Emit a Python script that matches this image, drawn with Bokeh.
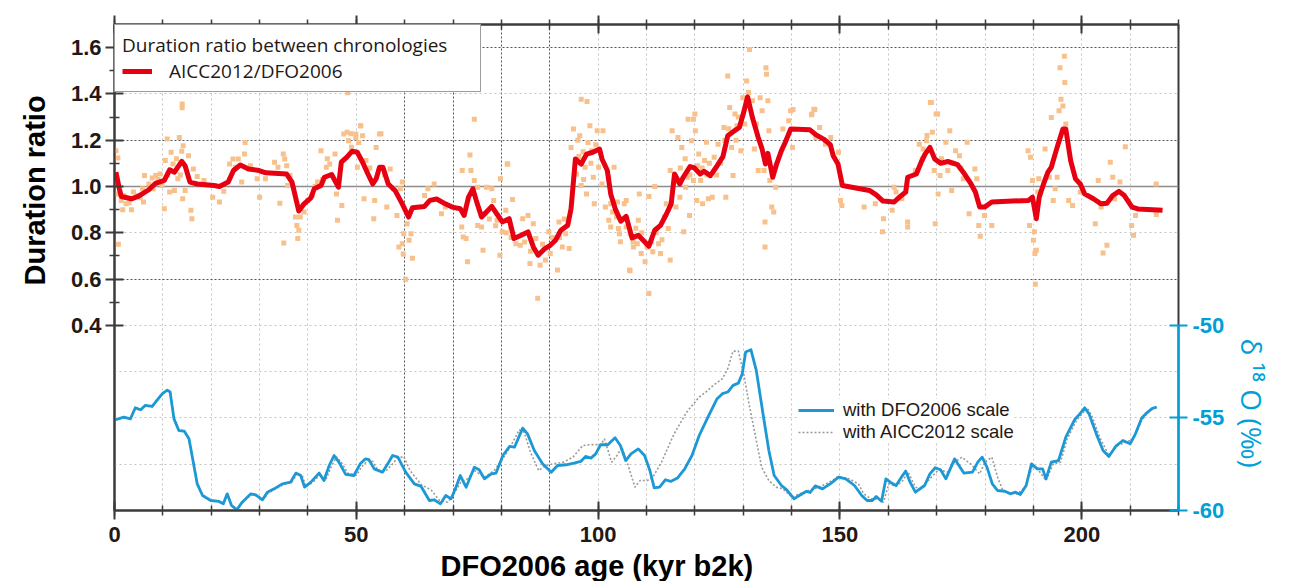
from bokeh.plotting import figure
from bokeh.models import (Range1d, LinearAxis, FixedTicker, Grid, Span, Legend,
                          LegendItem, Title, PrintfTickFormatter)
from bokeh.embed import file_html
from bokeh.resources import INLINE

# ---------------- data ----------------
red_x = [0.3, 1.0, 1.4, 3.5, 4.9, 7.1, 8.5, 10.3, 11.4, 12.4, 13.9, 14.6, 15.6, 17.1, 20.6, 21.7,
         23.5, 24.6, 26.0, 27.7, 29.9, 31.3, 35.6, 36.7, 38.1, 39.2, 40.6, 41.3, 42.7, 43.4, 44.9,
         46.3, 46.9, 48.0, 49.1, 50.2, 51.3, 52.4, 53.4, 54.1, 54.8, 55.5, 56.6, 58.0, 59.5, 60.8,
         61.6, 64.1, 65.2, 66.6, 68.4, 69.8, 71.5, 72.3, 73.2, 74.1, 74.8, 75.9, 76.9, 78.0, 79.1,
         80.2, 81.6, 82.6, 84.1, 85.5, 86.6, 87.6, 89.0, 90.1, 91.2, 92.3, 93.7, 94.4, 95.3, 96.5,
         97.6, 98.9, 100.3, 100.8, 101.9, 102.6, 103.6, 104.7, 105.8, 107.0, 108.3, 109.3, 110.5,
         111.7, 112.9, 114.1, 115.1, 115.8, 116.9, 117.6, 119.0, 119.9, 121.1, 121.9, 123.2, 124.4,
         125.8, 126.8, 128.0, 129.2, 130.0, 130.9, 131.9, 133.1, 133.9, 134.6, 135.1, 136.1, 136.9,
         137.9, 138.7, 139.8, 143.8, 145.0, 146.6, 148.0, 148.6, 149.6, 150.5, 156.1, 157.5, 158.9,
         161.2, 162.3, 163.6, 164.0, 165.8, 166.8, 167.6, 168.6, 169.6, 170.8, 172.3, 174.3, 175.5,
         177.1, 178.0, 178.9, 179.9, 181.4, 189.0, 189.8, 190.6, 191.2, 192.1, 193.0, 193.7, 194.9,
         196.1, 196.7, 197.7, 198.7, 199.7, 200.6, 202.4, 204.0, 205.2, 206.4, 207.7, 208.8, 210.4,
         211.6, 216.7]
red_y = [1.062, 0.99, 0.957, 0.947, 0.957, 0.986, 1.014, 1.026, 1.072, 1.062, 1.109, 1.09, 1.019,
         1.011, 1.004, 1.0, 1.019, 1.069, 1.093, 1.076, 1.069, 1.059, 1.054, 1.019, 0.894, 0.925,
         0.951, 0.99, 1.004, 1.04, 1.052, 0.997, 1.105, 1.126, 1.152, 1.148, 1.105, 1.054, 1.011,
         1.033, 1.083, 1.083, 1.011, 0.983, 0.925, 0.868, 0.908, 0.914, 0.94, 0.946, 0.925, 0.911,
         0.904, 0.875, 0.954, 0.99, 0.94, 0.868, 0.89, 0.914, 0.88, 0.847, 0.861, 0.775, 0.789,
         0.804, 0.739, 0.703, 0.732, 0.746, 0.768, 0.811, 0.832, 0.904, 1.119, 1.097, 1.14, 1.148,
         1.162, 1.119, 1.069, 0.968, 0.9, 0.85, 0.871, 0.778, 0.789, 0.768, 0.742, 0.811, 0.832,
         0.88, 0.925, 1.054, 1.011, 1.04, 1.086, 1.08, 1.054, 1.066, 1.047, 1.083, 1.129, 1.219,
         1.238, 1.255, 1.313, 1.387, 1.298, 1.212, 1.162, 1.097, 1.143, 1.04, 1.097, 1.155, 1.191,
         1.248, 1.245, 1.224, 1.205, 1.181, 1.133, 1.097, 1.004, 0.983, 0.964, 0.937, 0.933, 0.954,
         0.976, 1.04, 1.054, 1.105, 1.14, 1.169, 1.119, 1.1, 1.108, 1.095, 1.062, 1.011, 0.976,
         0.911, 0.911, 0.933, 0.94, 0.954, 0.861, 0.954, 1.011, 1.062, 1.083, 1.169, 1.248, 1.248,
         1.112, 1.033, 1.011, 0.968, 0.947, 0.925, 0.928, 0.961, 0.979, 0.961, 0.911, 0.903, 0.897]

pts_x = [0.3, 0.7, 0.8, 0.5, 1.4, 1.7, 2.4, 3.5, 3.9, 4.6, 5.3, 6.0, 6.2, 7.1, 7.8, 8.5, 9.4, 9.8,
         10.3, 10.5, 10.9, 11.4, 11.7, 12.1, 12.4, 13.1, 13.4, 13.9, 14.2, 14.1, 14.6, 15.3, 15.8,
         16.0, 16.3, 17.1, 18.5, 20.3, 21.7, 22.6, 23.8, 24.5, 25.0, 25.6, 26.3, 26.9, 27.0, 28.1,
         29.5, 30.0, 31.2, 33.1, 33.8, 34.2, 34.9, 35.2, 35.6, 35.8, 35.0, 36.3, 37.4, 37.7, 38.1,
         37.9, 38.4, 39.2, 39.9, 40.9, 42.0, 42.7, 43.8, 44.5, 45.6, 45.9, 46.1, 47.0, 47.4, 48.1,
         48.4, 49.9, 50.9, 51.3, 50.2, 52.0, 51.6, 53.8, 54.1, 54.8, 53.6, 56.3, 57.0, 57.7, 58.4,
         58.8, 59.5, 59.8, 59.7, 60.2, 60.5, 60.9, 61.6, 61.3, 59.5, 59.1, 64.1, 64.8, 66.1, 67.6,
         68.4, 71.9, 71.8, 72.1, 72.7, 73.0, 73.5, 73.7, 74.4, 75.1, 75.1, 75.9, 76.2, 76.6, 76.9,
         78.0, 78.4, 79.1, 79.8, 79.7, 80.2, 80.9, 81.2, 81.9, 82.3, 83.0, 83.9, 84.4, 85.5, 85.9,
         86.6, 87.1, 87.5, 88.0, 89.1, 89.8, 90.1, 91.6, 91.9, 92.6, 93.3, 94.0, 94.4, 94.9, 95.5,
         96.2, 96.5, 97.3, 97.6, 98.3, 98.7, 99.2, 99.8, 100.1, 100.8, 101.5, 102.2, 102.6, 103.3,
         104.0, 104.4, 105.1, 105.8, 106.5, 107.2, 108.3,
         101.0, 102.2, 102.6, 103.0, 103.8, 104.2, 104.6, 105.4, 105.8, 106.6, 106.6, 107.3, 108.1,
         108.5, 108.9, 109.7, 110.1, 110.5, 110.5, 111.3, 111.7, 112.5, 112.9, 113.7, 114.1, 114.5,
         114.9, 114.9, 115.3, 116.1, 116.5, 116.9, 117.3, 117.7, 118.1, 118.5, 118.9, 119.3, 119.7,
         119.7, 120.1, 120.4, 120.8, 121.2, 121.6, 122.0, 122.4, 122.8, 123.6, 124.0, 124.8, 126.0,
         126.4, 126.8, 127.2, 127.6, 127.9, 128.3, 128.7, 129.5, 129.9, 130.7, 131.1, 131.9, 132.3,
         132.7, 133.1, 133.5, 133.9, 134.3, 134.5, 134.5, 134.7, 134.8, 135.1, 135.3, 135.5, 135.9,
         136.3, 136.7, 138.2, 139.4, 139.8, 140.2, 144.2, 144.6, 145.0, 145.8, 147.0, 148.1, 149.7,
         150.1, 150.4, 155.0, 157.3, 158.8, 159.0, 160.8, 161.2, 161.6, 162.8, 164.0, 164.0, 165.6,
         166.4, 167.2, 167.9, 168.7, 169.1, 169.5, 169.7, 170.2, 170.3, 170.7, 171.9, 172.3, 172.7,
         173.1, 173.9, 174.7, 175.5, 176.3, 177.9, 178.3, 176.7, 178.7, 179.0, 179.9, 181.4, 188.9,
         189.2, 189.4, 189.8, 190.0, 190.2, 190.3, 190.4, 190.6, 190.9, 191.1, 192.4, 193.3, 193.7,
         194.1, 194.5, 194.9, 195.3, 195.5, 195.7, 196.1, 196.5, 196.7, 197.3, 198.1, 199.7, 202.8,
         203.4, 204.0, 204.4, 205.2, 205.9, 206.4, 206.8, 207.9, 209.0, 210.3, 210.7, 211.1, 215.4,
         215.4,
         131.3, 74.4, 96.5, 97.7, 81.3, 140.3, 144.8, 144.1, 118.6, 120.0, 196.4, 168.9, 169.9, 48.2,
         14.0, 14.0, 48.9, 49.9, 50.9, 55.1,
         95.8, 96.9, 97.9, 98.5, 99.5, 99.0, 96.0, 97.0, 2.0, 3.0, 5.8, 8.0, 9.0, 11.0, 12.8, 13.6,
         116.0, 117.0, 118.0, 119.0, 120.5, 121.5, 122.5, 123.0, 124.5, 125.3, 126.2, 127.0, 128.5,
         129.0, 130.3, 112.0, 113.2, 111.0, 109.0, 107.8, 41.5, 43.0, 44.0, 49.0, 50.5, 52.8, 55.8,
         167.0, 168.0, 171.0, 173.5, 175.0, 77.5, 78.8, 81.0, 82.0, 84.8, 86.0, 88.5, 90.5, 92.0,
         93.0]
pts_y = [1.155, 1.123, 0.75, 0.968, 0.94, 0.9, 0.925, 0.9, 0.976, 0.961, 0.951, 0.933, 1.047,
         1.011, 1.037, 1.047, 1.054, 1.004, 0.904, 1.112, 1.205, 0.976, 1.148, 1.097, 0.983, 1.033,
         1.212, 1.152, 1.176, 0.947, 0.983, 1.133, 0.897, 0.861, 1.076, 1.043, 1.026, 0.954, 0.933,
         0.98, 1.097, 1.119, 1.083, 1.119, 1.019, 1.14, 1.19, 1.09, 1.033, 0.954, 1.033, 1.105,
         1.083, 0.928, 1.14, 1.119, 1.09, 1.004, 0.756, 1.047, 0.868, 0.832, 0.811, 0.775, 0.868,
         0.89, 0.94, 0.961, 1.019, 1.155, 1.083, 1.097, 1.14, 0.968, 0.854, 0.918, 1.227, 1.234,
         1.198, 1.227, 1.262, 1.219, 1.083, 1.112, 0.947, 0.94, 1.169, 1.227, 0.861, 0.911, 1.076,
         0.99, 0.875, 0.739, 0.753, 0.796, 0.708, 0.599, 0.839, 0.768, 0.69, 0.796, 1.019, 0.99,
         0.961, 0.99, 1.011, 0.882, 0.911, 1.069, 0.825, 0.782, 0.775, 0.675, 1.136, 1.069, 1.026,
         0.997, 0.832, 0.825, 0.725, 0.882, 0.997, 0.99, 0.94, 0.854, 1.033, 0.703, 0.804, 0.897,
         1.097, 0.825, 0.944, 0.753, 0.746, 0.861, 0.875, 0.667, 0.839, 0.775, 0.517, 0.66, 0.682,
         0.804, 0.71, 0.639, 0.847, 0.739, 0.796, 0.732, 1.169, 1.248, 1.054, 1.219, 1.004, 1.083,
         0.968, 1.262, 1.155, 0.925, 1.241, 1.083, 1.011, 0.911, 0.854, 0.825, 1.083, 0.933, 0.796,
         0.861, 0.94, 0.639, 0.761, 0.854,
         1.241, 1.04, 0.925, 0.89, 0.868, 0.818, 0.761, 0.925, 0.825, 0.796, 0.636, 0.739, 0.753,
         0.968, 0.71, 0.675, 0.739, 0.538, 0.957, 0.718, 1.0, 0.753, 0.71, 0.868, 0.925, 0.818,
         0.682, 1.069, 1.241, 0.911, 1.212, 0.954, 1.169, 0.804, 0.997, 1.04, 0.875, 1.198, 1.291,
         1.026, 1.241, 0.94, 1.14, 1.026, 0.925, 1.112, 1.191, 0.947, 0.954, 1.126, 1.183, 1.255,
         0.954, 1.477, 1.341, 1.169, 1.047, 1.313, 1.262, 1.155, 1.384, 1.456, 1.406, 1.37, 1.162,
         1.27, 1.069, 1.384, 1.327, 1.069, 0.847, 0.739, 1.513, 1.485, 1.37, 1.241, 1.026, 0.911,
         0.89, 0.997, 1.248, 1.284, 1.327, 1.169, 1.313, 1.334, 1.212, 1.255, 1.183, 1.212, 1.148,
         0.94, 0.918, 0.911, 0.925, 0.804, 0.861, 0.897, 0.997, 0.976, 0.947, 0.847, 0.825, 1.069,
         1.183, 1.162, 1.198, 1.363, 1.234, 1.069, 0.839, 1.313, 0.968, 1.047, 1.191, 1.069, 1.241,
         0.983, 1.155, 1.133, 1.033, 1.191, 1.076, 1.033, 0.882, 0.832, 0.785, 0.875, 0.832, 1.155,
         0.832, 1.126, 1.026, 0.768, 0.804, 0.71, 0.578, 0.725, 0.976, 1.033, 1.162, 1.04, 1.298,
         0.94, 0.99, 1.04, 1.327, 1.513, 1.377, 1.348, 1.449, 1.27, 0.94, 0.918, 0.976, 0.839,
         1.026, 0.911, 0.713, 0.746, 1.105, 1.04, 0.947, 1.019, 1.172, 0.832, 0.789, 0.875, 1.011,
         0.879,
         1.592, 1.291, 1.377, 1.367, 1.097, 1.333, 1.333, 1.31, 1.291, 1.313, 1.563, 1.363, 1.313,
         1.405, 1.356, 1.34, 1.228, 1.211, 1.262, 1.228,
         1.2, 1.15, 1.19, 1.1, 1.18, 1.04, 1.13, 1.03, 0.96, 0.93, 0.99, 0.99, 1.03, 1.05, 1.12,
         1.05, 1.02, 1.08, 1.12, 1.05, 1.09, 1.08, 1.05, 1.1, 1.05, 1.1, 1.2, 1.25, 1.2, 1.3, 1.27,
         0.8, 0.77, 0.76, 0.8, 0.82, 1.0, 1.03, 1.12, 1.17, 1.19, 1.08, 1.05, 1.12, 1.22, 1.12, 1.1,
         1.08, 0.86, 0.83, 0.8, 0.78, 0.76, 0.72, 0.75, 0.78, 0.78, 0.86]

dfo_x = [0.2, 1.9, 3.3, 4.3, 5.4, 6.4, 7.8, 8.5, 9.9, 10.9, 11.5, 12.3, 13.3, 14.4, 15.4, 16.1,
         17.1, 18.2, 19.9, 21.6, 22.5, 23.3, 24.2, 25.3, 26.4, 28.2, 29.2, 30.6, 31.6, 33.0, 34.7,
         36.4, 37.5, 38.5, 39.3, 40.6, 42.3, 43.3, 44.4, 45.4, 46.4, 47.8, 49.5, 50.8, 51.9, 52.6,
         53.7, 55.4, 56.5, 57.5, 58.6, 60.2, 62.0, 63.4, 65.1, 66.1, 67.4, 68.5, 69.6, 70.6, 71.5,
         72.7, 74.4, 75.4, 76.5, 77.9, 78.9, 80.3, 81.7, 82.7, 84.4, 85.4, 86.8, 88.5, 90.3, 91.6,
         93.4, 95.0, 96.4, 97.4, 98.5, 99.5, 100.5, 102.0, 103.5, 104.6, 105.7, 106.8, 108.3, 109.6,
         110.7, 111.6, 112.7, 113.9, 115.0, 116.4, 117.9, 119.4, 120.9, 122.7, 124.6, 125.7, 126.8,
         127.9, 129.0, 129.8, 130.5, 131.6, 132.7, 134.2, 135.3, 136.4, 137.9, 139.0, 140.5, 141.6,
         143.1, 143.8, 144.9, 146.4, 148.2, 149.7, 151.2, 153.0, 154.5, 155.6, 156.7, 157.5, 158.6,
         159.5, 160.4, 161.6, 162.7, 163.6, 164.5, 165.6, 167.5, 168.6, 169.7, 170.8, 171.9, 173.7,
         175.6, 177.4, 178.5, 179.4, 180.4, 181.5, 182.6, 184.1, 185.2, 186.3, 187.3, 188.5, 189.6,
         190.8, 191.9, 192.6, 193.7, 195.2, 196.7, 198.5, 199.6, 200.6, 201.5, 203.0, 204.4, 205.6,
         207.0, 208.5, 210.0, 211.1, 212.4, 213.2, 214.5, 215.5]
dfo_d18o = [-55.1, -54.96, -55.05, -54.45, -54.56, -54.32, -54.38, -54.14, -53.69, -53.5, -53.6,
            -55.05, -55.68, -55.71, -56.13, -57.12, -58.56, -59.19, -59.46, -59.51, -59.64, -59.1,
            -59.73, -59.96, -59.55, -59.1, -59.15, -59.42, -59.01, -58.83, -58.56, -58.47, -57.98,
            -58.11, -58.74, -58.47, -57.98, -58.38, -57.57, -57.03, -57.39, -58.05, -58.11, -57.48,
            -57.21, -57.25, -57.75, -57.93, -57.48, -57.03, -57.12, -57.93, -58.56, -58.7, -59.46,
            -59.42, -59.64, -59.19, -59.37, -58.74, -58.11, -58.74, -57.66, -57.8, -58.29, -58.02,
            -57.98, -57.03, -56.54, -56.58, -55.55, -55.86, -56.76, -57.48, -57.93, -57.57, -57.53,
            -57.44, -57.35, -57.08, -57.17, -56.94, -56.45, -56.45, -56.07, -56.49, -57.3, -56.94,
            -56.67, -57.03, -57.84, -58.78, -58.74, -58.34, -58.43, -58.25, -57.75, -57.03, -55.95,
            -54.96, -53.96, -53.69, -53.6, -53.24, -53.12, -52.61, -51.44, -51.32, -52.43, -54.96,
            -56.76, -58.11, -58.65, -58.89, -59.37, -59.19, -58.96, -59.03, -58.67, -58.83, -58.52,
            -58.2, -58.29, -58.65, -59.19, -59.46, -59.46, -59.24, -59.5, -58.29, -58.47, -58.65,
            -58.2, -57.87, -58.47, -59.01, -58.65, -58.02, -57.69, -57.8, -58.29, -57.21, -57.98,
            -57.93, -57.39, -57.12, -57.66, -58.56, -58.92, -58.96, -59.1, -59.01, -59.14, -58.65,
            -57.48, -57.75, -57.75, -58.29, -57.39, -57.3, -56.04, -55.1, -54.78, -54.45, -54.78,
            -55.86, -56.76, -57.08, -56.54, -56.22, -56.4, -55.86, -55.0, -54.78, -54.5, -54.41]

aicc_x = [0.2, 1.9, 3.3, 4.3, 5.4, 6.4, 7.8, 8.5, 9.9, 10.9, 11.5, 12.3, 13.3, 14.4, 15.4, 16.1,
          17.1, 18.2, 19.9, 21.6, 22.5, 23.3, 24.2, 25.3, 26.4, 28.2, 29.4, 30.8, 31.8, 33.2, 34.9,
          36.6, 37.8, 38.8, 39.6, 40.9, 42.6, 43.6, 44.8, 45.9, 46.9, 48.3, 50.0, 51.5, 52.6, 53.4,
          54.4, 56.0, 57.1, 58.4, 59.8, 61.1, 63.4, 65.5, 67.2, 68.9, 70.2, 71.6, 73.0, 74.4, 76.5,
          78.5, 80.3, 82.0, 83.7, 84.7, 86.0, 87.7, 89.1, 90.7, 92.8, 94.8, 96.8, 98.6, 100.6, 101.3,
          102.8, 103.9, 104.9, 106.1, 107.6, 108.7, 110.2, 111.3, 113.1, 115.7, 118.3, 120.9, 122.3,
          123.8, 125.7, 126.8, 127.9, 129.0, 130.1, 131.2, 132.7, 133.8, 135.3, 136.8, 138.2, 140.1,
          141.6, 143.8, 145.6, 147.5, 149.7, 151.9, 153.8, 154.9, 156.4, 157.9, 159.0, 160.1, 161.6,
          163.0, 164.1, 165.6, 166.7, 168.9, 170.4, 172.3, 173.7, 175.2, 177.0, 178.9, 180.0, 181.4,
          182.6, 183.7, 185.2, 186.7, 188.5, 189.8, 191.1, 192.6, 194.1, 195.6, 197.0, 198.9, 201.1,
          202.2, 203.7, 205.6, 207.4, 209.2, 210.7, 212.4, 214.0, 215.5]
aicc_d18o = [-55.1, -55.0, -55.0, -54.5, -54.6, -54.35, -54.4, -54.15, -53.7, -53.5, -53.6, -55.0,
             -55.65, -55.7, -56.1, -57.1, -58.5, -59.15, -59.45, -59.5, -59.6, -59.15, -59.7, -59.9,
             -59.6, -59.15, -59.2, -59.4, -59.05, -58.85, -58.6, -58.5, -58.0, -58.1, -58.7, -58.5,
             -58.05, -58.4, -57.65, -57.1, -57.4, -58.0, -58.1, -57.5, -57.3, -57.35, -57.8, -57.9,
             -57.6, -57.2, -57.08, -57.84, -58.6, -58.9, -59.46, -59.55, -59.1, -58.47, -58.29,
             -57.84, -58.2, -57.84, -57.21, -56.49, -55.64, -55.77, -56.85, -57.84, -57.57, -57.48,
             -57.39, -57.12, -56.49, -56.44, -56.44, -56.13, -57.39, -57.03, -56.58, -57.48, -58.74,
             -58.38, -58.38, -58.2, -57.39, -55.86, -54.69, -53.87, -53.6, -53.24, -52.88, -52.34,
             -51.39, -51.39, -52.61, -54.24, -56.22, -57.66, -58.38, -58.74, -58.83, -59.28, -59.1,
             -58.89, -58.74, -58.52, -58.16, -58.29, -58.56, -59.1, -59.37, -59.37, -59.55, -58.56,
             -58.7, -58.38, -57.93, -58.74, -58.83, -58.2, -57.8, -57.93, -57.39, -57.12, -57.48,
             -58.02, -57.39, -57.12, -58.2, -58.92, -59.06, -59.1, -58.7, -57.57, -57.84, -58.38,
             -57.48, -57.39, -56.13, -55.14, -54.45, -54.96, -56.04, -57.03, -56.49, -56.31, -56.13,
             -55.14, -54.6, -54.45]

age_major = [0, 50, 100, 150, 200]
age_minor = [0, 10, 20, 30, 40, 50, 60, 70, 80, 90, 100, 110, 120, 130, 140, 150, 160, 170,
             180, 190, 200, 210, 220]
ratio_major = [0.4, 0.6, 0.8, 1.0, 1.2, 1.4, 1.6]
ratio_minor = [0.5, 0.7, 0.9, 1.1, 1.3, 1.5]
d18o_ticks = [-60, -55, -50]

# ---------------- styles ----------------
DARK = "#3e3a39"
TXT = "#231815"
CYAN = "#00a0d6"
BLUE = "#1b98d5"
RED = "#e60012"
ORANGE = "#f8c18c"
LIGHT = "#c4c4c4"
TICKF = "Liberation Sans"
LEGF = "Open Sans"

p = figure(frame_width=1064, frame_height=486,
           x_range=Range1d(0, 220), y_range=Range1d(-0.4, 1.7),
           output_backend="svg", toolbar_location=None,
           x_axis_location=None, y_axis_location=None,
           min_border_left=114, min_border_right=100, min_border_top=24, min_border_bottom=10,
           background_fill_color="white", border_fill_color="white")
p.extra_y_ranges = {"d18o": Range1d(-60, -33.75)}
p.outline_line_color = DARK
p.outline_line_width = 2
for g in p.grid:
    g.visible = False

# grids
light_v = [10, 20, 30, 40, 50, 100, 110, 120, 130, 140, 150, 160, 170, 180, 190, 200, 210]
dark_v = [60, 70, 80, 90]
light_h = [-0.2, 0.0, 0.2, 0.4, 0.8, 1.4]
dark_h = [0.6, 1.2, 1.6]
p.add_layout(Grid(dimension=0, ticker=FixedTicker(ticks=light_v), grid_line_color=LIGHT,
                  grid_line_dash="2 3", grid_line_width=1))
p.add_layout(Grid(dimension=0, ticker=FixedTicker(ticks=dark_v), grid_line_color="#555555",
                  grid_line_dash="2 2", grid_line_width=1))
p.add_layout(Grid(dimension=1, ticker=FixedTicker(ticks=light_h), grid_line_color=LIGHT,
                  grid_line_dash="2 3", grid_line_width=1))
p.add_layout(Grid(dimension=1, ticker=FixedTicker(ticks=dark_h), grid_line_color="#555555",
                  grid_line_dash="2 2", grid_line_width=1))
p.add_layout(Span(location=1.0, dimension="width", line_color="#8c8c8c", line_width=1.5,
                  level="underlay"))

# glyphs
p.scatter(pts_x, pts_y, marker="square", size=5, fill_color=ORANGE, line_color=None)
red_r = p.line(red_x, red_y, line_color=RED, line_width=5, line_join="round")
gray_r = p.line(aicc_x, aicc_d18o, y_range_name="d18o", line_color="#9a9a9a", line_width=1.6,
                line_dash="2 2")
blue_r = p.line(dfo_x, dfo_d18o, y_range_name="d18o", line_color=BLUE, line_width=2.8,
                line_join="round")

# axes
def style_axis(ax, color=DARK):
    ax.axis_line_color = color
    ax.axis_line_width = 2
    ax.major_tick_line_color = color
    ax.major_tick_line_width = 2
    ax.minor_tick_line_color = color
    ax.minor_tick_line_width = 1.5
    ax.major_tick_in = 9
    ax.major_tick_out = 9
    ax.minor_tick_in = 5
    ax.minor_tick_out = 5
    ax.major_label_text_font = TICKF
    ax.major_label_text_font_style = "bold"
    ax.major_label_text_font_size = "22px"
    ax.major_label_text_color = TXT

bottom = LinearAxis(ticker=FixedTicker(ticks=age_major, minor_ticks=age_minor),
                    formatter=PrintfTickFormatter(format="%d"))
style_axis(bottom)
bottom.major_label_standoff = 7
p.add_layout(bottom, "below")

top = LinearAxis(ticker=FixedTicker(ticks=age_major, minor_ticks=age_minor),
                 major_label_overrides={t: "" for t in age_major})
style_axis(top)
top.major_label_standoff = 0
p.add_layout(top, "above")

left = LinearAxis(ticker=FixedTicker(ticks=ratio_major, minor_ticks=ratio_minor),
                  formatter=PrintfTickFormatter(format="%.1f"))
style_axis(left)
left.major_label_standoff = 4
p.add_layout(left, "left")

right = LinearAxis(y_range_name="d18o", bounds=(-60, -50),
                   ticker=FixedTicker(ticks=d18o_ticks),
                   formatter=PrintfTickFormatter(format="%d"))
style_axis(right, CYAN)
right.major_label_text_color = CYAN
right.major_label_standoff = 5
p.add_layout(right, "right")

# axis titles (placed off-centre as in the original)
p.add_layout(Title(text="Duration ratio", align="left", offset=225, text_font=TICKF,
                   text_font_style="bold", text_font_size="29px", text_color="black",
                   vertical_align="top", standoff=30), "left")
p.add_layout(Title(text="DFO2006 age (kyr b2k)", align="left", offset=326, text_font=TICKF,
                   text_font_style="bold", text_font_size="29px", text_color="black",
                   standoff=6), "below")
p.add_layout(Title(text="δ ¹⁸ O (‰)", align="left", offset=314, text_font=LEGF,
                   text_font_style="normal", text_font_size="28px", text_color=CYAN,
                   standoff=10), "right")

# legends
leg1 = Legend(items=[LegendItem(label="AICC2012/DFO2006", renderers=[red_r])],
              location="top_left", margin=0, padding=7, spacing=0,
              title="Duration ratio between chronologies",
              title_text_font=LEGF, title_text_font_size="19px", title_text_font_style="normal",
              title_text_color=TXT, title_standoff=0,
              label_text_font=LEGF, label_text_font_size="19px", label_text_color=TXT,
              glyph_width=30, glyph_height=18, label_height=18, label_standoff=17,
              label_width=304,
              border_line_color=DARK, border_line_width=1.5, background_fill_alpha=1.0)
p.add_layout(leg1)

leg2 = Legend(items=[LegendItem(label="with DFO2006 scale", renderers=[blue_r]),
                     LegendItem(label="with AICC2012 scale", renderers=[gray_r])],
              location=(684, 67), margin=0, padding=2, spacing=0,
              label_text_font=TICKF, label_text_font_size="18.5px", label_text_color=TXT,
              glyph_width=36, glyph_height=18, label_height=18, label_standoff=9,
              border_line_color=None, background_fill_alpha=1.0)
p.add_layout(leg2)

open("out.html", "w").write(file_html(p, INLINE))
